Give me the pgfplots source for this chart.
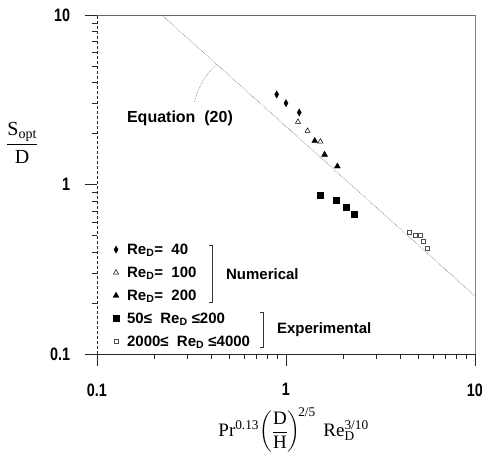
\documentclass[border=0pt]{standalone}
\usepackage{amsmath}
\usepackage{graphicx}
\usepackage{fontspec}
\setmainfont{Liberation Sans}
\newfontfamily\seriffont{Liberation Serif}
\usepackage{pgfplots}
\pgfplotsset{compat=1.18}
\usetikzlibrary{calc}
\newcommand{\cn}[1]{\scalebox{0.8}[1]{#1}}
\begin{document}
\begin{tikzpicture}
\begin{axis}[
  name=ax,
  xmode=log, ymode=log,
  scale only axis, width=378pt, height=339pt,
  xmin=0.1, xmax=10, ymin=0.1, ymax=10,
  axis x line=bottom, axis y line=left,
  axis line style={-, black!85, line width=0.6pt},
  y axis line style={densely dashed},
  tick align=outside,
  major tick length=12pt, minor tick length=5pt,
  tick style={black!85, line width=0.5pt},
  xtick={0.1,1,10}, xticklabels={\cn{0.1},\cn{1},\cn{10}},
  ytick={0.1,1,10}, yticklabels={\cn{0.1},\cn{1},\cn{10}},
  ticklabel style={font=\fontsize{18}{20}\selectfont\bfseries},
  yticklabel style={xshift=-11.5pt},
  xticklabel style={yshift=-14pt},
  clip=false,
  legend style={at={(rel axis cs:0.042,0.332)}, anchor=north west, draw=none, fill=none,
    font=\fontsize{15}{17}\selectfont\bfseries, row sep=7pt, column sep=6pt, inner sep=0pt},
  legend cell align=left,
]
\draw[black!60, line width=0.5pt] (rel axis cs:0,1) -- (rel axis cs:1,1);
\draw[black!50, line width=0.5pt] (rel axis cs:1,1) -- (rel axis cs:1,0);

\addplot[only marks, mark=diamond*, mark size=3.6pt, black, mark options={xscale=0.75}]
  coordinates {(0.893,3.40) (1.00,3.02) (1.175,2.66)};
\addlegendentry{Re\textsubscript{D}=\ \ 40}
\addplot[only marks, mark=triangle*, mark size=3.0pt, black, fill=white, mark options={line width=0.5pt}]
  coordinates {(1.157,2.34) (1.30,2.07) (1.52,1.79)};
\addlegendentry{Re\textsubscript{D}=\ \ 100}
\addplot[only marks, mark=triangle*, mark size=3.4pt, black]
  coordinates {(1.42,1.81) (1.60,1.50) (1.87,1.28)};
\addlegendentry{Re\textsubscript{D}=\ \ 200}
\addplot[only marks, mark=square*, mark size=3.0pt, black]
  coordinates {(1.51,0.870) (1.85,0.813) (2.09,0.732) (2.29,0.667)};
\addlegendentry{50≤\ \ Re\textsubscript{D} ≤200}
\addplot[only marks, mark=square, mark size=2.0pt, black!70, mark options={line width=0.4pt}]
  coordinates {(4.5,0.52) (4.8,0.50) (5.1,0.50) (5.3,0.46) (5.6,0.42)};
\addlegendentry{2000≤\ \ Re\textsubscript{D} ≤4000}

\addplot[forget plot, black!55, densely dotted, line width=0.6pt]
  coordinates {(0.22,10) (10,0.22)};

\draw[black!55, densely dotted, line width=0.6pt] (axis cs:0.328,3.08) to[bend left=15] (axis cs:0.428,5.1);
\node[anchor=west, font=\fontsize{16}{18}\selectfont\bfseries, inner sep=0pt] at (rel axis cs:0.079,0.696) {Equation\ \ (20)};

\draw[black!80, line width=0.5pt] (rel axis cs:0.296,0.3215) -- (rel axis cs:0.304,0.3215) -- (rel axis cs:0.304,0.153) -- (rel axis cs:0.296,0.153);
\node[anchor=west, font=\fontsize{15}{17}\selectfont\bfseries, inner sep=0pt] at (rel axis cs:0.341,0.236) {Numerical};
\draw[black!80, line width=0.5pt] (rel axis cs:0.431,0.124) -- (rel axis cs:0.439,0.124) -- (rel axis cs:0.439,0.021) -- (rel axis cs:0.431,0.021);
\node[anchor=west, font=\fontsize{15}{17}\selectfont\bfseries, inner sep=0pt] at (rel axis cs:0.476,0.071) {Experimental};

\node[anchor=center, inner sep=0pt, font=\seriffont\fontsize{20}{24}\selectfont] at (rel axis cs:-0.198,0.622)
  {$\dfrac{\text{S}_{\text{opt}}}{\text{D}}$};
\node[anchor=center, inner sep=0pt, font=\seriffont\fontsize{19}{23}\selectfont] at (rel axis cs:0.52,-0.225)
  {$\text{Pr}^{\text{0.13}}\!\left(\dfrac{\text{D}}{\text{H}}\right)^{\!\text{2/5}}\ \text{Re}_{\text{D}}^{\text{3/10}}$};
\end{axis}
\pgfresetboundingbox
\path[use as bounding box] ($(ax.south west)+(-97pt,-100pt)$) rectangle ($(ax.north east)+(7pt,15pt)$);
\end{tikzpicture}
\end{document}
